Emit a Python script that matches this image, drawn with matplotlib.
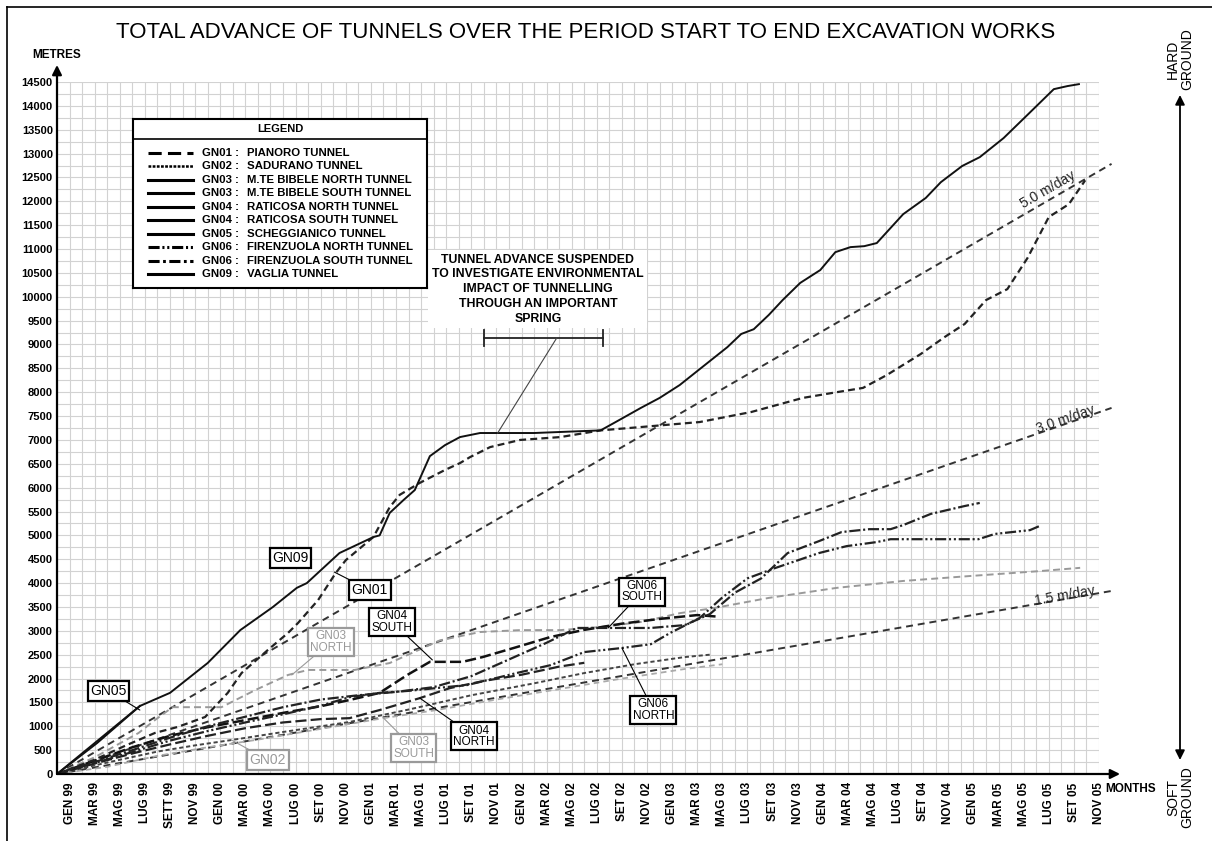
import matplotlib.pyplot as plt
from matplotlib.lines import Line2D

plt.rcParams['font.family'] = ['Liberation Sans', 'DejaVu Sans']
plt.rcParams['lines.scale_dashes'] = False

# x axis = months from start of works (GEN 99 = 1 ... NOV 05 = 83)
month_labels = ['GEN 99', 'MAR 99', 'MAG 99', 'LUG 99', 'SETT 99', 'NOV 99',
                'GEN 00', 'MAR 00', 'MAG 00', 'LUG 00', 'SET 00', 'NOV 00',
                'GEN 01', 'MAR 01', 'MAG 01', 'LUG 01', 'SET 01', 'NOV 01',
                'GEN 02', 'MAR 02', 'MAG 02', 'LUG 02', 'SET 02', 'NOV 02',
                'GEN 03', 'MAR 03', 'MAG 03', 'LUG 03', 'SET 03', 'NOV 03',
                'GEN 04', 'MAR 04', 'MAG 04', 'LUG 04', 'SET 04', 'NOV 04',
                'GEN 05', 'MAR 05', 'MAG 05', 'LUG 05', 'SET 05', 'NOV 05']
label_months = list(range(1, 84, 2))

gn09_month = [0, 6.6, 9.0, 12.0, 14.6, 17.2, 19.1, 19.9, 22.5, 25.2, 25.7, 26.5,
              27.6, 28.5, 29.7, 30.9, 32.1, 33.7, 38.0, 43.3, 44.5, 46.5, 48.0,
              49.6, 51.2, 53.4, 54.5, 55.5, 56.7, 57.8, 59.2, 60.8, 62.0, 63.2,
              64.3, 65.3, 67.4, 69.2, 70.4, 72.1, 73.5, 75.4, 77.2, 79.4, 80.5, 81.4]
gn09_metres = [0, 1425, 1700, 2325, 3015, 3500, 3900, 4000, 4630, 4965, 5000, 5470,
               5740, 5950, 6660, 6890, 7060, 7145, 7145, 7200, 7375, 7670, 7880,
               8150, 8485, 8945, 9220, 9320, 9620, 9930, 10290, 10560, 10935, 11040,
               11060, 11125, 11730, 12070, 12400, 12740, 12925, 13325, 13785, 14350,
               14415, 14455]

gn01_month = [0, 3, 5.5, 7.8, 9.6, 11.8, 13.6, 14.7, 16.8, 18.4, 19.2, 20.8, 22.2,
              23.0, 25.2, 26.5, 27.3, 28.9, 30.9, 32.1, 32.9, 34.5, 36.9, 40.1, 43.3,
              46.5, 51.2, 55.3, 59.4, 62.1, 64.2, 66.1, 68.8, 70.7, 72.3, 74.0, 75.7,
              77.3, 79.0, 80.6, 81.9]
gn01_metres = [0, 300, 600, 860, 985, 1195, 1700, 2115, 2600, 2955, 3165, 3645, 4210,
               4480, 4965, 5590, 5850, 6100, 6370, 6515, 6640, 6850, 7000, 7060, 7200,
               7270, 7375, 7585, 7880, 8000, 8090, 8360, 8800, 9155, 9430, 9930, 10160,
               10810, 11670, 11940, 12440]

gn02_month = [0, 4, 8, 11, 13.9, 18, 23.3, 28, 33, 38, 42, 46, 50, 52]
gn02_metres = [0, 240, 470, 600, 712, 880, 1090, 1350, 1650, 1900, 2115, 2300, 2450, 2500]

gn03n_month = [0, 3, 6.5, 7.8, 9.2, 13.1, 15.8, 18.4, 20.0, 23.7, 26.5, 30.5, 33.7,
               36.9, 40.1, 43.3, 46.5, 49.6, 52.4, 56.7, 62.1, 67.4, 72.8, 78.2, 81.5]
gn03n_metres = [0, 350, 860, 1130, 1400, 1400, 1760, 2075, 2180, 2180, 2325, 2800, 2975,
                3015, 3015, 3080, 3185, 3370, 3480, 3690, 3900, 4045, 4150, 4250, 4320]

gn03s_month = [0, 4, 8, 12, 16, 20, 24, 26, 30, 35, 40, 45, 50, 53]
gn03s_metres = [0, 150, 380, 560, 720, 900, 1080, 1170, 1330, 1560, 1780, 2000, 2200, 2300]

gn04n_month = [0, 3, 6, 9, 12, 15, 18, 21, 23.3, 25.7, 28.9, 31.3, 34, 37, 40, 42]
gn04n_metres = [0, 220, 430, 620, 800, 960, 1080, 1150, 1170, 1340, 1590, 1800, 1950,
                2080, 2250, 2330]

gn04s_month = [0, 3, 6, 9, 12, 15, 18, 21, 23.3, 25.7, 27.9, 29.7, 32.3, 33.9, 36.5,
               39.3, 42, 45, 48, 51, 52.5]
gn04s_metres = [0, 280, 560, 800, 980, 1130, 1280, 1420, 1550, 1700, 2075, 2350, 2350,
                2450, 2650, 2870, 3020, 3150, 3250, 3330, 3300]

gn05_month = [0, 3.2, 6.6]
gn05_metres = [0, 650, 1425]

gn06n_month = [0, 3, 6, 9, 12, 15, 18, 21, 23.3, 25.7, 27.9, 32.7, 36.6, 39.3, 42, 45,
               47.3, 48.8, 51.2, 53, 55, 57.2, 60.7, 62.9, 65.3, 66.4, 73.4, 74.7,
               77.5, 78.3]
gn06n_metres = [0, 230, 460, 700, 900, 1080, 1250, 1430, 1610, 1700, 1740, 1865, 2115,
                2280, 2555, 2640, 2720, 2950, 3270, 3700, 4100, 4315, 4630, 4775, 4860,
                4920, 4920, 5030, 5110, 5200]

gn06s_month = [0, 3, 6, 9, 12, 15, 18, 21, 24, 27, 30, 33, 36, 39, 41.4, 47.3, 50, 52,
               54, 56.1, 58.2, 60.7, 62.5, 64.7, 66.4, 67.4, 69.6, 72.3, 73.5]
gn06s_metres = [0, 250, 500, 760, 1000, 1200, 1400, 1560, 1650, 1720, 1820, 2050, 2400,
                2750, 3060, 3060, 3120, 3350, 3800, 4100, 4630, 4880, 5070, 5130, 5130,
                5215, 5450, 5615, 5680]

rates = [1.5, 3.0, 5.0]          # m/day reference lines
rate_labels = ['1.5 m/day', '3.0 m/day', '5.0 m/day']

legend_codes = ['GN01', 'GN02', 'GN03', 'GN03', 'GN04', 'GN04', 'GN05', 'GN06', 'GN06', 'GN09']
legend_names = ['PIANORO TUNNEL', 'SADURANO TUNNEL', 'M.TE BIBELE NORTH TUNNEL',
                'M.TE BIBELE SOUTH TUNNEL', 'RATICOSA NORTH TUNNEL', 'RATICOSA SOUTH TUNNEL',
                'SCHEGGIANICO TUNNEL', 'FIRENZUOLA NORTH TUNNEL', 'FIRENZUOLA SOUTH TUNNEL',
                'VAGLIA TUNNEL']

W, H = 1212, 841


def fx(px):
    return px / W


def fy(py):
    return 1 - py / H


fig = plt.figure(figsize=(12.12, 8.41), dpi=100)
ax = fig.add_axes([fx(57), fy(774), (1099 - 57) / W, (774 - 82) / H])
ax.set_xlim(0, 83)
ax.set_ylim(0, 14500)
for s in ax.spines.values():
    s.set_visible(False)

ax.set_xticks(label_months)
ax.set_xticklabels(month_labels, rotation=90, fontsize=8.5, fontweight='bold')
ax.set_xticks(range(0, 84), minor=True)
yt = list(range(0, 14501, 500))
ax.set_yticks(yt)
ax.set_yticklabels([str(v) for v in yt], fontsize=8, fontweight='bold')
ax.set_yticks(range(0, 14501, 250), minor=True)
ax.tick_params(which='both', length=0)
ax.tick_params(axis='x', pad=6)
ax.tick_params(axis='y', pad=3)
ax.grid(which='both', color='#d2d2d2', lw=0.8)
ax.set_axisbelow(True)

# axis arrows
arrow = dict(arrowstyle='-|>', color='k', lw=1.6, shrinkA=0, shrinkB=0, mutation_scale=14)
ax.annotate('', xy=(0, 1.0246), xytext=(0, 0), xycoords='axes fraction',
            textcoords='axes fraction', arrowprops=arrow, annotation_clip=False)
ax.annotate('', xy=(1.0202, 0), xytext=(0, 0), xycoords='axes fraction',
            textcoords='axes fraction', arrowprops=arrow, annotation_clip=False)

# reference rate lines
rate_pos = [(80.3, 3730, 9.9), (80.3, 7440, 19.1), (78.9, 12235, 30.0)]
for r, lab, (tx, ty, rot) in zip(rates, rate_labels, rate_pos):
    ax.plot([0, 84], [0, r * 30.44 * 84], color='#333333', lw=1.4,
            dashes=(5, 3.5), clip_on=False, zorder=2)
    ax.text(tx, ty, lab, rotation=rot, ha='center', va='center', fontsize=10,
            rotation_mode='anchor', color='#222222')

# tunnels
ax.plot(gn03s_month, gn03s_metres, color='#aaaaaa', lw=1.3, dashes=(4, 3))
ax.plot(gn03n_month, gn03n_metres, color='#999999', lw=1.4, dashes=(5, 3))
ax.plot(gn02_month, gn02_metres, color='#444444', lw=1.4, dashes=(3, 2))
ax.plot(gn04n_month, gn04n_metres, color='#222222', lw=1.6, dashes=(8, 3))
ax.plot(gn04s_month, gn04s_metres, color='#111111', lw=1.8, dashes=(8, 3))
ax.plot(gn06n_month, gn06n_metres, color='#222222', lw=1.6, dashes=(8, 2, 1.5, 2, 1.5, 2))
ax.plot(gn06s_month, gn06s_metres, color='#222222', lw=1.6, dashes=(8, 2, 1.5, 2))
ax.plot(gn01_month, gn01_metres, color='#222222', lw=1.6, dashes=(5, 3))
ax.plot(gn05_month, gn05_metres, color='#111111', lw=1.4)
ax.plot(gn09_month, gn09_metres, color='#111111', lw=1.4)


# tags on the curves
def tag(text, pos, point, color='black', fs=10):
    kw = dict(ha='center', va='center', fontsize=fs, color=color, linespacing=0.9,
              bbox=dict(boxstyle='square,pad=0.2', fc='white', ec=color, lw=1.6), zorder=5)
    if point is None:
        ax.text(pos[0], pos[1], text, **kw)
    else:
        ax.annotate(text, xy=point, xytext=pos,
                    arrowprops=dict(arrowstyle='-', color=color, lw=0.8,
                                    shrinkA=0, shrinkB=0), **kw)


grey = '#9a9a9a'
tag('GN09', (18.6, 4525), None)
tag('GN01', (24.9, 3855), (22.1, 4230))
tag('GN05', (4.1, 1740), (6.6, 1340))
tag('GN03\nNORTH', (21.8, 2765), (18.7, 2075), grey, 8.5)
tag('GN02', (16.8, 295), (13.9, 712), grey)
tag('GN04\nSOUTH', (26.7, 3185), (29.9, 2390), 'black', 8.5)
tag('GN03\nSOUTH', (28.4, 545), (26.0, 1175), grey, 8.5)
tag('GN04\nNORTH', (33.2, 795), (28.9, 1590), 'black', 8.5)
tag('GN06\nSOUTH', (46.6, 3815), (43.9, 3060), 'black', 8.5)
tag('GN06\nNORTH', (47.5, 1340), (45.0, 2640), 'black', 8.5)

# suspension note
ax.text(38.3, 10160, 'TUNNEL ADVANCE SUSPENDED\nTO INVESTIGATE ENVIRONMENTAL\n'
        'IMPACT OF TUNNELLING\nTHROUGH AN IMPORTANT\nSPRING',
        ha='center', va='center', fontsize=8.8, fontweight='bold', linespacing=1.3,
        bbox=dict(boxstyle='square,pad=0.3', fc='white', ec='none'), zorder=4)
ax.plot([34, 43.5], [9134, 9134], color='#222222', lw=1.3, zorder=4)
ax.plot([34, 34], [8960, 9300], color='#222222', lw=1.3, zorder=4)
ax.plot([43.5, 43.5], [8960, 9300], color='#222222', lw=1.3, zorder=4)
ax.plot([39.8, 35.1], [9134, 7145], color='#444444', lw=0.8, zorder=4)

# legend box
lg = fig.add_axes([fx(133), fy(288), 294 / W, 169 / H])
lg.set_xlim(0, 294)
lg.set_ylim(169, 0)
lg.set_xticks([])
lg.set_yticks([])
for s in lg.spines.values():
    s.set_linewidth(1.5)
lg.axhline(20, color='k', lw=1.2)
lg.text(147, 10.5, 'LEGEND', ha='center', va='center', fontsize=8, fontweight='bold')
legend_dashes = [(9.5, 4.5), (2, 1), None, None, None, None, None,
                 (8, 2, 1.5, 2, 1.5, 2), (8, 2.5, 2, 2.5), None]
for i, (code, name, d) in enumerate(zip(legend_codes, legend_names, legend_dashes)):
    yy = 34 + i * 13.45
    ln = Line2D([15, 60], [yy, yy], color='k', lw=2.2 if d != (2, 1) else 1.8)
    if d is not None:
        ln.set_dashes(d)
    lg.add_line(ln)
    lg.text(69, yy, code + ' :', va='center', fontsize=8.2, fontweight='bold')
    lg.text(114, yy, name, va='center', fontsize=8.2, fontweight='bold')

# texts around the frame
fig.text(fx(586), fy(32), 'TOTAL ADVANCE OF TUNNELS OVER THE PERIOD START TO END EXCAVATION WORKS',
         ha='center', va='center', fontsize=16)
fig.text(fx(57), fy(55), 'METRES', ha='center', va='center', fontsize=8.5, fontweight='bold')
fig.text(fx(1105), fy(789), 'MONTHS', ha='left', va='center', fontsize=8.5, fontweight='bold')
fig.text(fx(1180), fy(59), 'HARD\nGROUND', rotation=90, ha='center', va='center',
         fontsize=10, linespacing=1.0)
fig.text(fx(1180), fy(797), 'SOFT\nGROUND', rotation=90, ha='center', va='center',
         fontsize=10, linespacing=1.0)
ax.annotate('', xy=(fx(1180), fy(95)), xytext=(fx(1180), fy(760)),
            xycoords='figure fraction', textcoords='figure fraction',
            arrowprops=dict(arrowstyle='<|-|>', color='k', lw=1.3, shrinkA=0, shrinkB=0,
                            mutation_scale=14), annotation_clip=False)

# page border (top and left)
fig.add_artist(Line2D([fx(7), 1], [fy(7), fy(7)], color='k', lw=1.2))
fig.add_artist(Line2D([fx(7), fx(7)], [fy(7), 0], color='k', lw=1.2))

fig.savefig('out.png', dpi=100)
